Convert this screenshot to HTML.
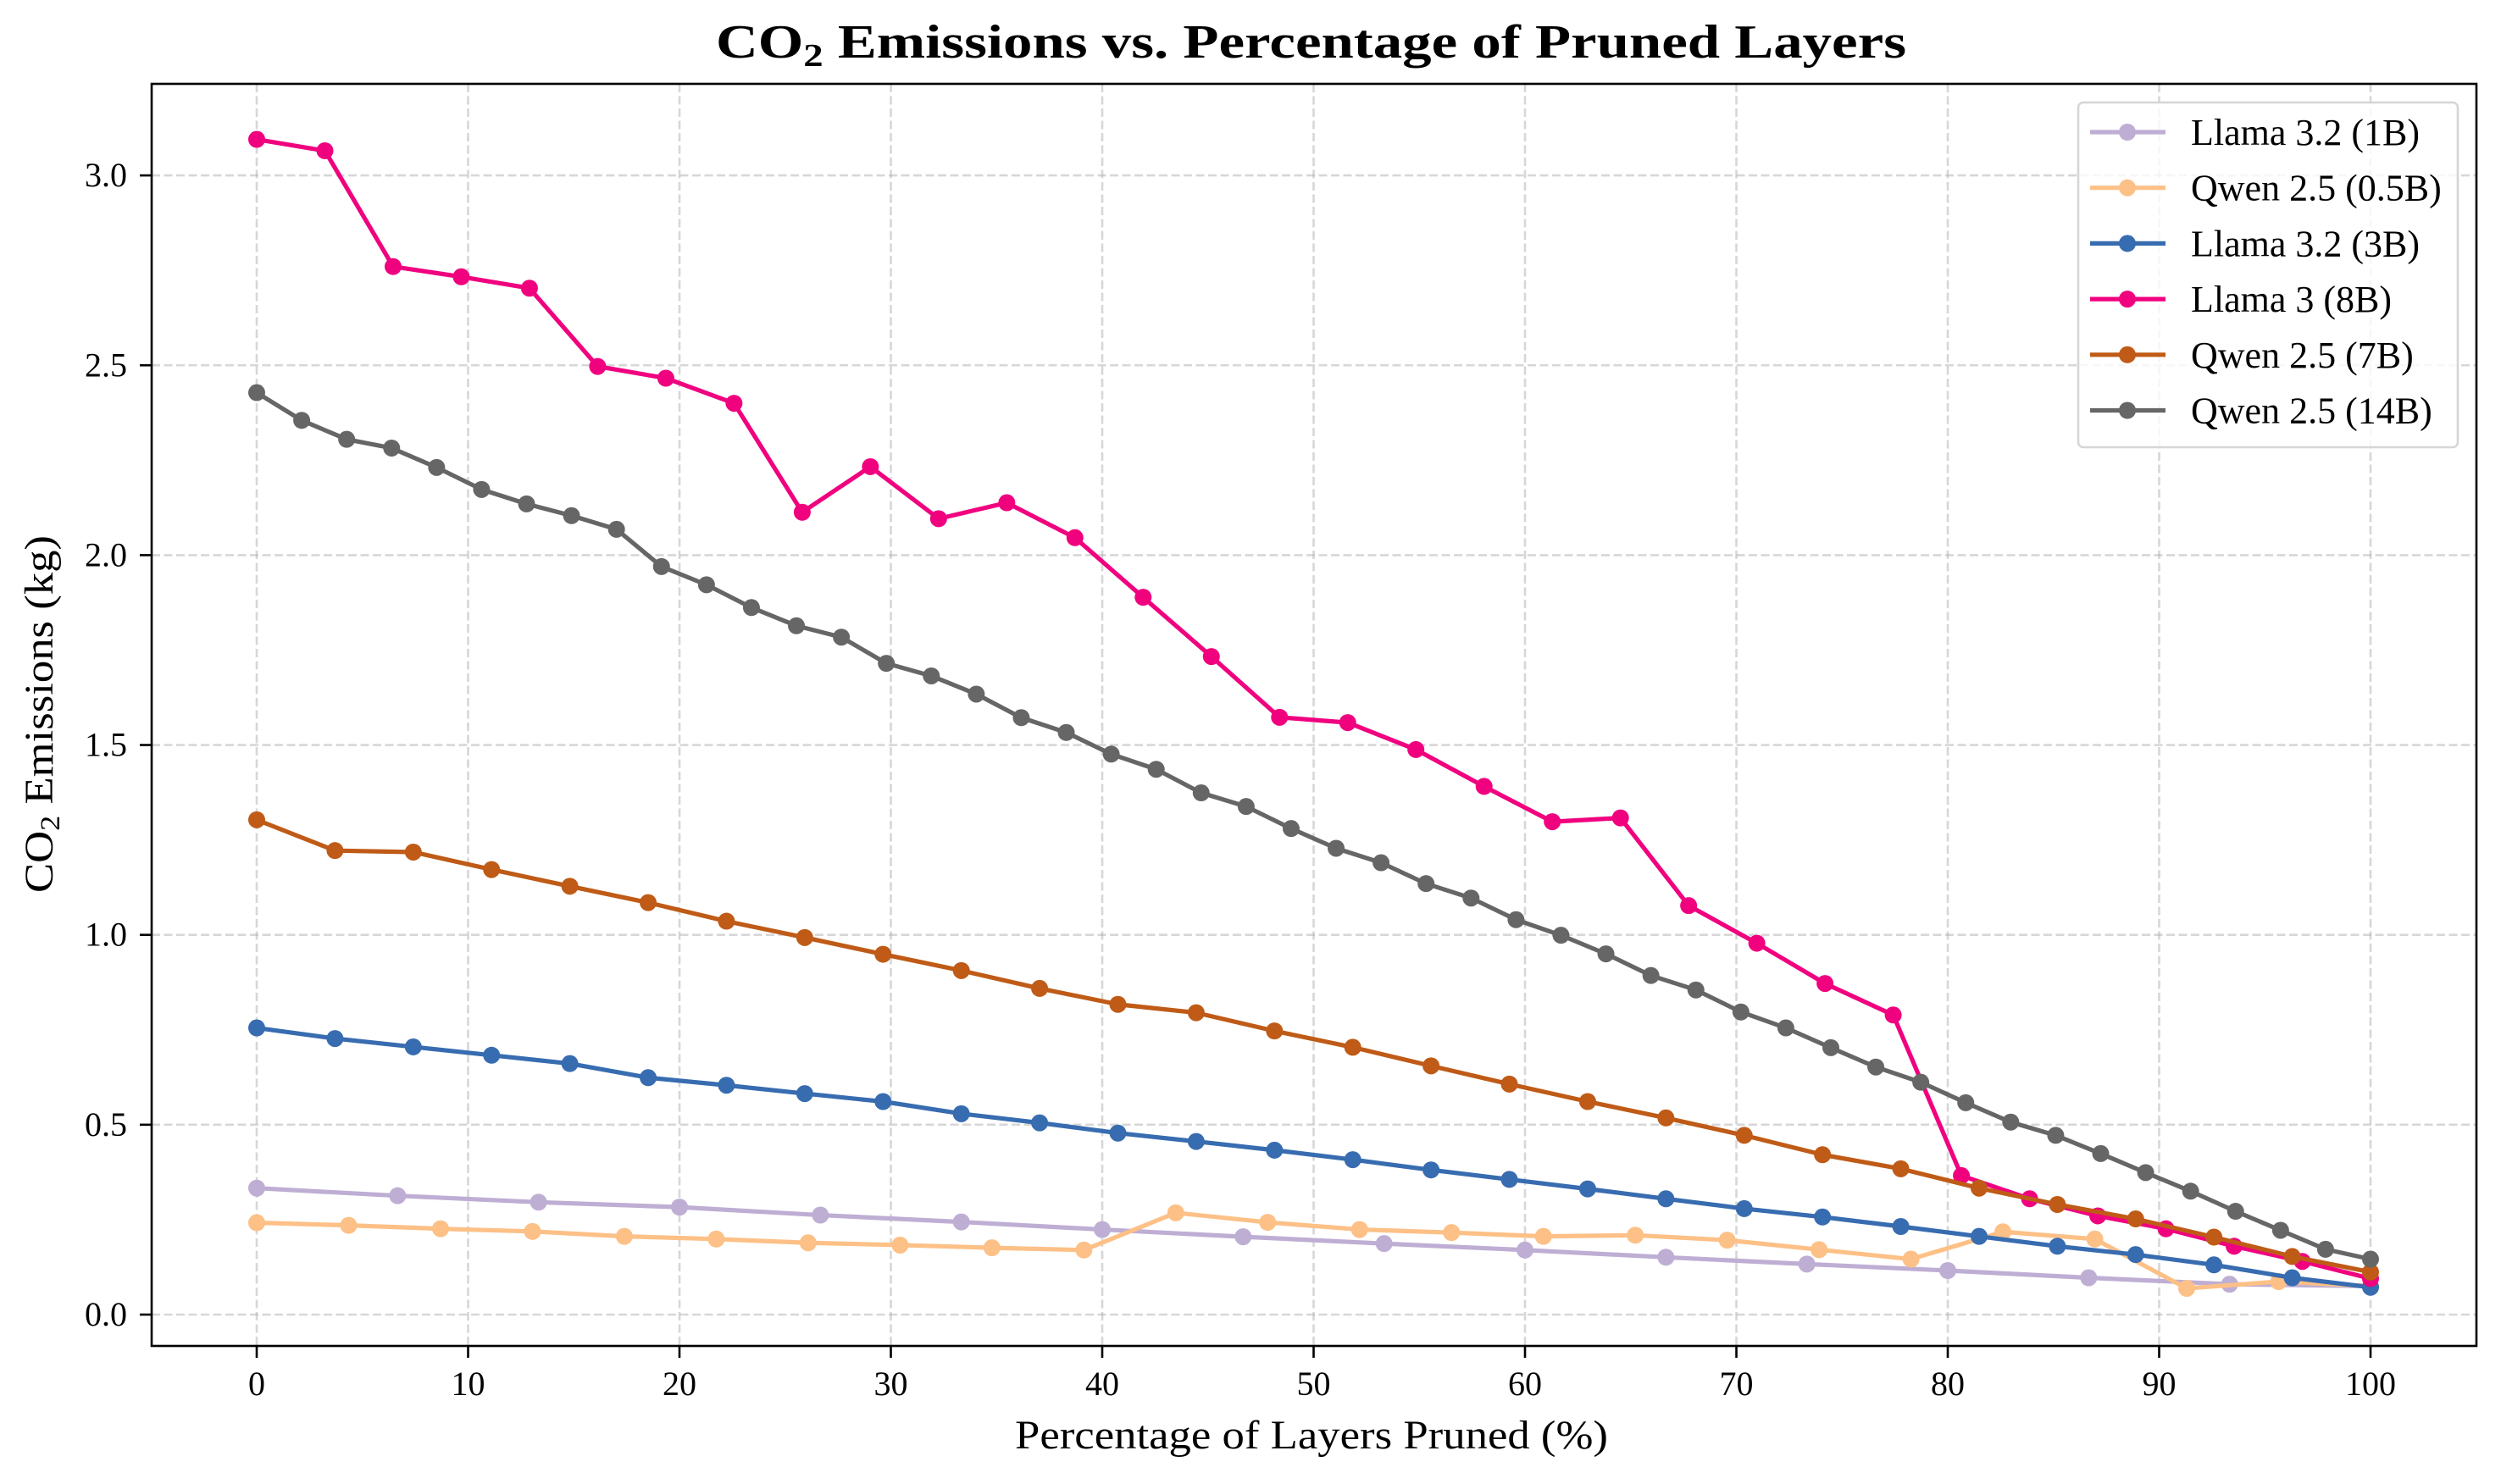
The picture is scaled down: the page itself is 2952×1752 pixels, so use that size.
<!DOCTYPE html>
<html><head><meta charset="utf-8"><style>
html,body{margin:0;padding:0;background:#fff;}
svg{display:block;font-family:"Liberation Serif",serif;}
</style></head><body>
<svg id="chart" width="2952" height="1752" viewBox="0 0 2952 1752" xmlns="http://www.w3.org/2000/svg">
<rect width="2952" height="1752" fill="#fff"/>
<g id="grid"></g><g id="series"></g><g id="axes"></g><g id="legend"></g>
</svg>
<script>
const seriesNames = ["Llama 3.2 (1B)","Qwen 2.5 (0.5B)","Llama 3.2 (3B)","Llama 3 (8B)","Qwen 2.5 (7B)","Qwen 2.5 (14B)"];
const seriesColors = ["#beaed4","#fdc086","#386cb0","#f0027f","#bf5b17","#666666"];
const llama1B = [0.333,0.313,0.296,0.283,0.262,0.244,0.224,0.205,0.187,0.170,0.151,0.133,0.116,0.097,0.080,0.075];
const qwen05B = [0.242,0.235,0.226,0.219,0.206,0.199,0.189,0.183,0.176,0.170,0.268,0.243,0.224,0.216,0.206,0.209,0.196,0.171,0.146,0.218,0.199,0.069,0.087,0.075];
const llama3B = [0.755,0.727,0.705,0.683,0.661,0.624,0.604,0.582,0.561,0.529,0.505,0.478,0.456,0.433,0.408,0.381,0.356,0.331,0.305,0.279,0.257,0.232,0.206,0.180,0.158,0.131,0.097,0.072];
const llama8B = [3.095,3.065,2.760,2.733,2.703,2.497,2.466,2.400,2.113,2.233,2.096,2.138,2.046,1.889,1.733,1.573,1.559,1.488,1.391,1.298,1.308,1.077,0.978,0.872,0.789,0.366,0.305,0.260,0.226,0.180,0.140,0.095];
const qwen7B = [1.303,1.222,1.218,1.172,1.128,1.085,1.036,0.993,0.949,0.906,0.859,0.817,0.795,0.747,0.704,0.655,0.607,0.561,0.518,0.472,0.421,0.384,0.333,0.290,0.252,0.204,0.153,0.112];
const qwen14B = [2.428,2.355,2.305,2.282,2.231,2.173,2.135,2.104,2.068,1.970,1.922,1.862,1.814,1.784,1.715,1.682,1.634,1.572,1.533,1.476,1.436,1.374,1.338,1.280,1.228,1.190,1.135,1.097,1.040,0.999,0.950,0.893,0.855,0.797,0.755,0.703,0.652,0.612,0.558,0.507,0.472,0.424,0.374,0.325,0.272,0.222,0.172,0.146];
const xTicks = [0,10,20,30,40,50,60,70,80,90,100];
const yTicks = [0.0,0.5,1.0,1.5,2.0,2.5,3.0];
const yTickLabels = ["0.0","0.5","1.0","1.5","2.0","2.5","3.0"];

const NS="http://www.w3.org/2000/svg";
const L=179,R=2923,T=99,B=1589;
const xS=v=>303+v*24.95;
const yS=v=>1552-v*448.3;
function mk(tag,attrs,parent,text){const e=document.createElementNS(NS,tag);for(const k in attrs)e.setAttribute(k,attrs[k]);if(text!==undefined)e.textContent=text;parent.appendChild(e);return e;}
const grid=document.getElementById('grid'),ser=document.getElementById('series'),axes=document.getElementById('axes'),leg=document.getElementById('legend');

xTicks.forEach(t=>{
 const g=mk('line',{x1:xS(t),x2:xS(t),y1:T,y2:B,stroke:'#b0b0b0','stroke-opacity':0.5,'stroke-width':2.6,'stroke-dasharray':'10,4.5'},grid);
 
 
 const tk=mk('line',{x1:xS(t),x2:xS(t),y1:B,y2:B+14,stroke:'#000','stroke-width':2.6},axes);
 
 
 const lb=mk('text',{x:xS(t),y:1647,'font-size':40,'text-anchor':'middle'},axes,String(t));
 
 
});
yTicks.forEach((t,i)=>{
 const g=mk('line',{x1:L,x2:R,y1:yS(t),y2:yS(t),stroke:'#b0b0b0','stroke-opacity':0.5,'stroke-width':2.6,'stroke-dasharray':'10,4.5'},grid);
 
 
 const tk=mk('line',{x1:L-14,x2:L,y1:yS(t),y2:yS(t),stroke:'#000','stroke-width':2.6},axes);
 
 
 const lb=mk('text',{x:150,y:yS(t)+13,'font-size':40,'text-anchor':'end'},axes,yTickLabels[i]);
 
 
});

const allSeries=[llama1B,qwen05B,llama3B,llama8B,qwen7B,qwen14B];
allSeries.forEach((vals,si)=>{
 const g=mk('g',{},ser);
 
 
 const n=vals.length;
 const pts=vals.map((v,i)=>[xS(i*100/(n-1)),yS(v)]);
 const pl=mk('polyline',{points:pts.map(p=>p.join(',')).join(' '),fill:'none',stroke:seriesColors[si],'stroke-width':5.2,'stroke-linejoin':'round'},g);
 
 
 pts.forEach(p=>{
  const c=mk('circle',{cx:p[0],cy:p[1],r:10,fill:seriesColors[si]},g);
  
  
 });
});

const frame=mk('rect',{x:L,y:T,width:R-L,height:B-T,fill:'none',stroke:'#000','stroke-width':2.6},axes);



const lbox=mk('rect',{x:2453,y:121,width:448,height:407,rx:6,fill:'#fff','fill-opacity':0.8,stroke:'#d6d6d6','stroke-width':2.6},leg);


seriesNames.forEach((nm,i)=>{
 const y=156+i*65.7;
 const g=mk('g',{},leg);
 
 
 mk('line',{x1:2467,x2:2556,y1:y,y2:y,stroke:seriesColors[i],'stroke-width':5.2},g);
 mk('circle',{cx:2511,cy:y,r:10,fill:seriesColors[i]},g);
 mk('text',{x:2586,y:y+15,'font-size':44},g,nm);
});
</script>
<script>
const s=document.getElementById('chart');
const t1=document.createElementNS(NS,'text');
t1.setAttribute('x',845);t1.setAttribute('y',68);t1.setAttribute('font-size',56);t1.setAttribute('font-weight','bold');
t1.setAttribute('textLength',1405);t1.setAttribute('lengthAdjust','spacingAndGlyphs');


t1.innerHTML='CO<tspan font-size="38" dy="10">2</tspan><tspan dy="-10"> Emissions vs. Percentage of Pruned Layers</tspan>';
s.appendChild(t1);
const t2=document.createElementNS(NS,'text');
t2.setAttribute('x',1198);t2.setAttribute('y',1710);t2.setAttribute('font-size',48);
t2.setAttribute('textLength',700);t2.setAttribute('lengthAdjust','spacingAndGlyphs');


t2.textContent='Percentage of Layers Pruned (%)';
s.appendChild(t2);
const t3=document.createElementNS(NS,'text');
t3.setAttribute('transform','translate(62,1054) rotate(-90)');t3.setAttribute('font-size',48);
t3.setAttribute('textLength',422);t3.setAttribute('lengthAdjust','spacingAndGlyphs');


t3.innerHTML='CO<tspan font-size="33" dy="8">2</tspan><tspan dy="-8"> Emissions (kg)</tspan>';
s.appendChild(t3);
</script>
</body></html>
